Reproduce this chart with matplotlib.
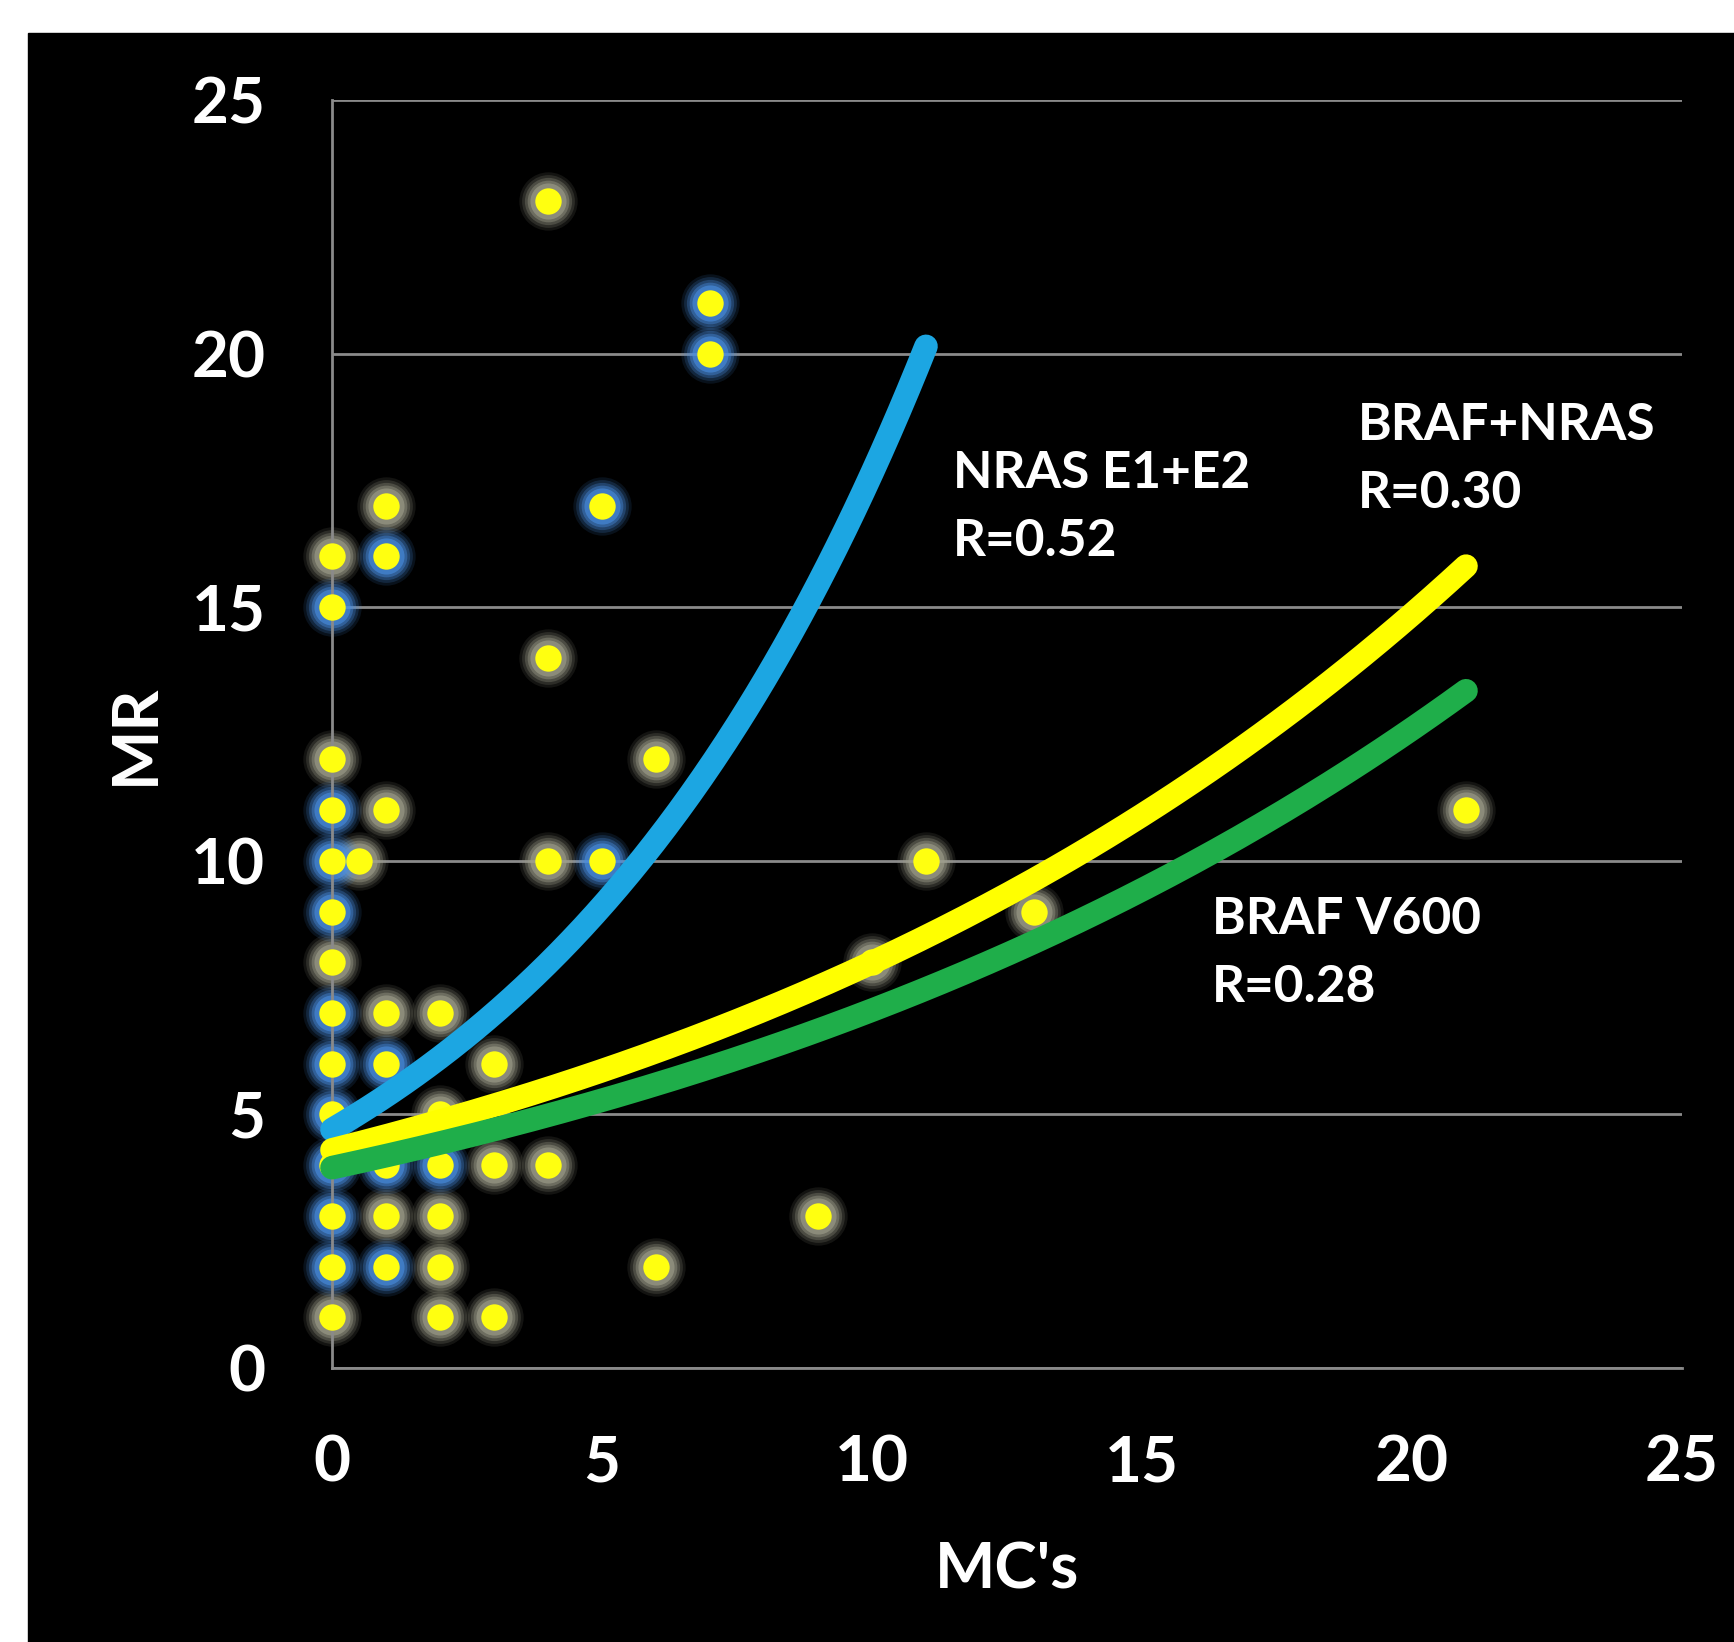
import matplotlib
matplotlib.use('Agg')
import matplotlib.pyplot as plt
from matplotlib.patches import Rectangle
import numpy as np

plt.rcParams['font.family'] = ['Lato', 'DejaVu Sans']
plt.rcParams['font.weight'] = 'bold'

# points whose glow is blue (NRAS cases)
nras_x = [0, 0, 0, 0, 0, 0, 0, 0, 0, 0, 1, 1, 1, 1, 2, 5, 5, 7, 7]
nras_y = [2, 3, 4, 5, 6, 7, 9, 10, 11, 15, 2, 4, 6, 16, 4, 10, 17, 21, 20]

# remaining points (grey glow)
other_x = [0, 0, 0, 0, 0.5, 1, 1, 1, 1, 2, 2, 2, 2, 2, 3, 3, 3, 4, 4, 4, 4, 6, 6, 9, 10, 11, 13, 21]
other_y = [1, 8, 12, 16, 10, 3, 7, 11, 17, 1, 2, 3, 5, 7, 1, 4, 6, 4, 10, 14, 23, 2, 12, 3, 8, 10, 9, 11]

# exponential trendlines y = a*exp(b*x)
trend_names = ['NRAS E1+E2', 'BRAF+NRAS', 'BRAF V600']
trend_r = ['0.52', '0.30', '0.28']
trend_a = [4.7, 4.3, 3.95]
trend_b = [0.1323, 0.0620, 0.0580]
trend_xmax = [11, 21, 21]
trend_colors = ['#1ca6e2', '#ffff00', '#1fae4a']
label_pos = [(11.5, 18.1), (19.0, 19.05), (16.3, 9.3)]

fig = plt.figure(figsize=(17.34, 16.42), dpi=100, facecolor='white')
fig.patches.append(Rectangle((28 / 1734, 0), 1, (1642 - 33) / 1642,
                             transform=fig.transFigure, color='black', zorder=-10))
ax = fig.add_axes([332 / 1734, (1642 - 1368) / 1642, 1350 / 1734, 1268 / 1642])
ax.set_facecolor('black')
ax.patch.set_alpha(0)

# glowing dots
for xs, ys, glow in [(other_x, other_y, '#a0a08c'), (nras_x, nras_y, '#4a8ee0')]:
    for size, alpha in [(42, 0.12), (38, 0.18), (34, 0.28), (30, 0.4), (26, 0.6)]:
        ax.scatter(xs, ys, s=size ** 2, color=glow, alpha=alpha, linewidths=0,
                   zorder=2, clip_on=False)
for xs, ys in [(other_x, other_y), (nras_x, nras_y)]:
    ax.scatter(xs, ys, s=19 ** 2, color='#ffff10', linewidths=0, zorder=3, clip_on=False)

# trendlines
for a, b, xm, c in zip(trend_a, trend_b, trend_xmax, trend_colors):
    xx = np.linspace(0, xm, 200)
    ax.plot(xx, a * np.exp(b * xx), color=c, lw=17, solid_capstyle='round',
            zorder=4, clip_on=False)

for name, r, (tx, ty) in zip(trend_names, trend_r, label_pos):
    ax.text(tx, ty, f'{name}\nR={r}', color='white', fontsize=37, fontweight='bold',
            va='top', ha='left', linespacing=1.55, zorder=5)

ax.set_xlim(0, 25)
ax.set_ylim(0, 25)
ax.set_xticks(range(0, 26, 5))
ax.set_yticks(range(0, 26, 5))
ax.grid(axis='y', color='#8a8a8a', lw=2)
ax.set_axisbelow(True)
for s in ['top', 'right']:
    ax.spines[s].set_visible(False)
for s in ['left', 'bottom']:
    ax.spines[s].set_color('#8a8a8a')
    ax.spines[s].set_linewidth(2)
ax.tick_params(length=0, labelsize=46, labelcolor='white', pad=48)
ax.set_xlabel("MC's", color='white', fontsize=46, fontweight='bold', labelpad=36)
ax.set_ylabel('MR', color='white', fontsize=46, fontweight='bold', labelpad=20)

fig.savefig('out.png', dpi=100, facecolor='white')
